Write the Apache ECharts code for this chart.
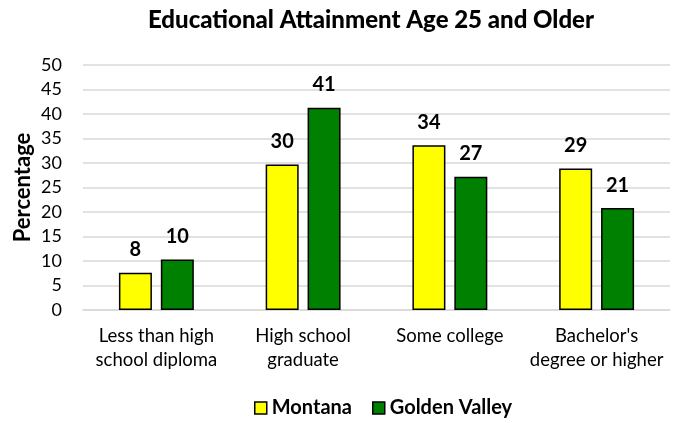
<!DOCTYPE html>
<html><head><meta charset="utf-8">
<script src="https://cdn.jsdelivr.net/npm/echarts@6/dist/echarts.min.js"></script>
<style>html,body{margin:0;padding:0;background:#fff}#c{width:684px;height:423px}</style>
</head><body><div id="c"></div>
<script>
const categories = ["Less than high\nschool diploma", "High school\ngraduate", "Some college", "Bachelor's\ndegree or higher"];
const montana = [7.6, 29.7, 33.6, 28.9];
const goldenValley = [10.3, 41.3, 27.2, 20.8];
const seriesNames = ["Montana", "Golden Valley"];
const FONT = "Lato, 'Open Sans', sans-serif";
const chart = echarts.init(document.getElementById('c'), null, {renderer: 'canvas'});
const labelOpt = {show: true, position: 'top', distance: 13, fontFamily: FONT, fontWeight: 'bold', fontSize: 20, color: '#000', formatter: p => Math.round(p.value)};
chart.setOption({
  animation: false,
  title: {text: 'Educational Attainment Age 25 and Older', left: 366, textAlign: 'center', top: 3,
    textStyle: {fontFamily: FONT, fontWeight: 900, fontSize: 24, color: '#000'}},
  legend: {bottom: 0, left: 249, itemWidth: 12, itemHeight: 12, itemGap: 20,
    textStyle: {fontFamily: FONT, fontWeight: 'bold', fontSize: 20, color: '#000'},
    data: seriesNames.map(n => ({name: n, icon: 'rect', itemStyle: {borderColor: '#000', borderWidth: 1.5}}))},
  grid: {left: 83, right: 14, top: 65, bottom: 113},
  xAxis: {type: 'category', data: categories,
    axisLine: {show: true, lineStyle: {color: '#d9d9d9', width: 1.5}}, axisTick: {show: false},
    axisLabel: {interval: 0, fontFamily: FONT, fontSize: 18.5, color: '#000', lineHeight: 24, margin: 14}},
  yAxis: {type: 'value', min: 0, max: 50, interval: 5, name: 'Percentage', nameLocation: 'middle', nameGap: 49,
    nameMoveOverlap: false,
    nameTextStyle: {fontFamily: FONT, fontWeight: 'bold', fontSize: 22, color: '#000'},
    axisLine: {show: false}, axisTick: {show: false},
    axisLabel: {fontFamily: FONT, fontSize: 18, color: '#000', margin: 21},
    splitLine: {lineStyle: {color: '#d9d9d9', width: 1.5}}},
  series: [
    {name: seriesNames[0], type: 'bar', data: montana, barWidth: 33, barGap: '27%',
     itemStyle: {color: '#ffff00', borderColor: '#000', borderWidth: 1.5}, label: labelOpt},
    {name: seriesNames[1], type: 'bar', data: goldenValley, barWidth: 33,
     itemStyle: {color: '#008000', borderColor: '#000', borderWidth: 1.5}, label: labelOpt}
  ]
});
</script></body></html>
